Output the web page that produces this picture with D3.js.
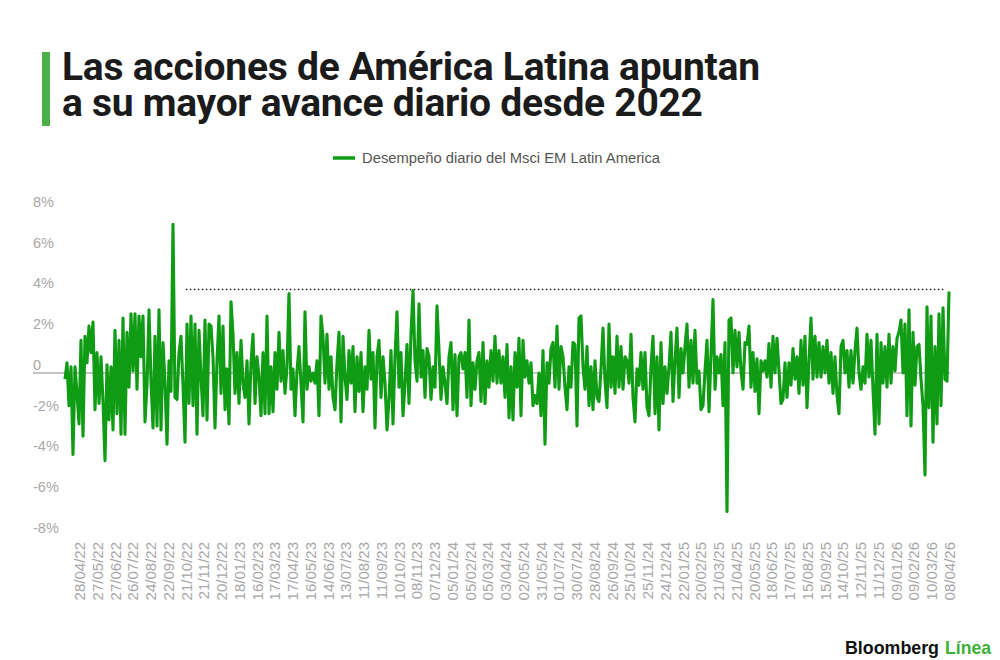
<!DOCTYPE html>
<html>
<head>
<meta charset="utf-8">
<script src="https://cdn.jsdelivr.net/npm/d3@7"></script>
<style>
  body { margin: 0; background: #fff; }
  svg text { font-family: "Liberation Sans", Arial, sans-serif; }
</style>
</head>
<body>
<svg id="chart" width="1000" height="660"></svg>
<script>
// Texts
var titleLines = ["Las acciones de América Latina apuntan", "a su mayor avance diario desde 2022"];
var legendLabel = "Desempeño diario del Msci EM Latin America";

// y axis ticks (%)
var yTicks = [8, 6, 4, 2, 0, -2, -4, -6, -8];

// x axis labels, one every 21 trading days, the last one is the last day
var dateLabels = ["28/04/22", "27/05/22", "27/06/22", "26/07/22", "24/08/22", "22/09/22", "21/10/22", "21/11/22", "20/12/22", "18/01/23",
    "16/02/23", "17/03/23", "17/04/23", "16/05/23", "14/06/23", "13/07/23", "11/08/23", "11/09/23", "10/10/23", "08/11/23",
    "07/12/23", "05/01/24", "05/02/24", "05/03/24", "03/04/24", "02/05/24", "31/05/24", "01/07/24", "30/07/24", "28/08/24",
    "26/09/24", "25/10/24", "25/11/24", "24/12/24", "22/01/25", "20/02/25", "21/03/25", "21/04/25", "20/05/25", "18/06/25",
    "17/07/25", "15/08/25", "15/09/25", "14/10/25", "12/11/25", "11/12/25", "09/01/26", "09/02/26", "10/03/26", "08/04/26"];
var daysPerLabel = 21;
var totalDays = 1047;

// daily change (%), evenly spaced over the whole period
var daily2022 = [-0.3, 0.5, -1.6, 0.3, -4.0, 0.3, -1.0, -2.5, 1.6, -3.1,
    1.8, 0.5, 2.3, 1.0, 2.5, -1.8, 1.0, -1.5, 0.8, -1.4,
    -4.3, 0.4, -2.3, 0.3, -2.8, 2.1, -2.0, 1.6, -3.0, 2.7,
    -3.0, 2.0, -0.7, 2.9, 0.1, 2.9, -0.8, 2.8, 0.8, 2.8,
    -2.4, -0.6, 3.1, -0.4, -2.7, 1.8, -2.6, 3.1, -2.8, 1.5,
    -0.5, -3.5, 0.6, -0.9, 7.3, -1.2, -1.3, 1.0, 1.8, -0.6,
    -3.4, 2.4, -1.5, 2.8, -1.6, 2.4, -3.0, 2.1, -0.2, -2.1,
    2.6, -2.3, 2.4];
var daily2023a = [2.3, 0.8, -2.7, 0.6, 2.8, -1.0, 2.3, -1.8, 0.2, -2.5,
    3.5, 1.9, -1.0, 1.0, -1.5, 1.6, -0.5, -1.2, 0.6, -2.5,
    0.5, 1.9, -1.5, 0.8, -0.2, -2.1, 1.0, -2.0, 2.8, -2.0,
    0.3, -1.9, 1.0, -0.8, 2.0, -0.4, 1.1, -1.0, 0.3, 3.9,
    -0.8, 0.2, -2.1, 0.1, 1.3, -0.5, -2.4, 3.0, -0.8, 0.3,
    -0.4, 0.0, -0.5, 0.6, -2.1, 2.8, 1.8, -0.5, 1.9, -0.8,
    0.8, -1.2, -1.8, 0.5, 2.0, -2.4, 1.8, -0.2, -1.3, 1.1,
    -0.5, 1.3];
var daily2023b = [-1.9, 0.8, -0.9, 1.0, -1.9, 0.3, -0.8, 2.1, -0.3, 1.0,
    -2.7, 0.8, 1.6, -1.2, 0.8, -0.5, -2.8, -1.3, 1.1, -2.5,
    0.8, 3.0, -0.7, 1.0, -2.1, -0.5, 1.4, -1.5, 1.9, 4.05,
    0.6, -0.4, 3.4, -0.2, 1.1, -1.2, 1.2, 0.8, -1.3, 0.3,
    -0.7, 3.3, 1.1, -1.3, 0.3, -0.5, -1.5, 0.8, 1.5, -1.8,
    0.9, -2.1, 0.8, 1.0, 0.2, 1.0, -1.2, 2.6, -1.6, 0.5,
    -0.8, 0.6, 1.0, -1.4, 1.5, -1.5, 0.6, -0.7, 1.1, -0.4,
    1.8, -0.5, 1.1];
var daily2024 = [-0.5, 0.8, -1.2, 1.4, -2.2, 0.3, -2.3, 1.0, -0.7, 1.7,
    -2.1, 1.6, -0.2, 0.6, -0.5, 0.5, -1.6, -1.1, -1.5, 0.0,
    -2.1, 1.1, -3.5, 0.5, -0.5, 1.2, 1.5, -0.7, 2.3, -0.8,
    1.3, 0.8, -0.7, -1.8, 0.3, -0.7, 1.5, 1.4, -2.6, 2.7,
    2.8, 0.3, -0.8, 1.3, -1.6, 0.3, -1.8, 0.6, -1.2, -1.4,
    0.2, 2.2, -0.4, -1.7, 2.4, -0.7, 0.8, -1.0, 1.8, -0.7,
    1.3, -0.8, 0.8, 0.6, -0.5, 1.9, -1.2, -2.4, 0.2, -0.6,
    1.0, -0.8];
var daily2025a = [1.0, -1.65, -2.1, 0.3, 1.8, -2.0, 0.8, -2.8, 1.5, -1.5,
    0.3, -1.0, 0.3, 2.0, -1.4, 0.6, 2.2, -1.2, 1.2, 0.0,
    1.3, 2.4, -0.7, 1.6, -0.5, 2.1, -0.5, 0.1, -1.8, -1.6,
    0.1, 1.6, -1.9, 0.9, 3.6, -0.8, 0.8, 0.0, 0.9, -1.6,
    1.5, -6.8, 2.6, 2.7, 0.0, 2.1, 0.3, 2.0, 0.1, -0.8,
    1.5, 1.4, 2.3, -0.7, 1.0, -0.9, 0.7, -2.0, 0.6, 0.1,
    0.6, -0.2, 1.45, -0.7, 1.8, 0.0, 1.7, 0.1, -1.5, -1.3,
    0.5, -1.2, 0.5, -0.6, 1.2, -0.3, 0.8, -1.0];
var daily2025b = [1.6, -0.6, 1.8, -1.7, 0.6, 2.7, -0.3, 1.8, -0.2, 1.5,
    -0.2, 1.3, 0.0, 1.6, -0.5, 1.0, -1.0, 0.8, -1.1, -2.0,
    1.3, 1.6, 0.0, 1.1, -0.7, 1.1, -0.5, 1.1, 2.2, 0.0,
    -0.8, 0.3, -0.5, 1.9, -0.2, 1.6, -0.8, -3.0, 1.9, -2.5,
    1.5, -0.5, 1.3, -0.7, 1.9, -0.5, 1.3, 0.1, 1.7, 2.0,
    2.6, 0.0, 2.4, -2.1, 3.1, -2.6, 2.0, -0.6, 1.3, 1.4,
    -0.3, -1.6, -5.0, 3.25, -1.7, 2.8, -3.4, 1.3, -2.5, 2.9,
    -1.6, 3.2, -0.3, -0.4, 4.0];

// dotted reference line
var refFrom = "21/10/22";
var refValue = 4.1;

var values = daily2022.concat(daily2023a, daily2023b, daily2024, daily2025a, daily2025b);

var green = "#0f9c14";
var svg = d3.select("#chart");

// Title with the green bar
svg.append("rect").attr("x", 42).attr("y", 52).attr("width", 8).attr("height", 74).attr("fill", "#4caf47");
svg.selectAll(".title").data(titleLines).enter().append("text")
    .attr("class", "title")
    .attr("x", 62)
    .attr("y", function(d, i) { return 80 + i * 36; })
    .attr("textLength", function(d, i) { return i === 0 ? 698 : 641; })
    .attr("lengthAdjust", "spacing")
    .style("font-family", "Roboto, 'Liberation Sans', sans-serif")
    .style("font-weight", 700)
    .style("font-size", "39px")
    .attr("fill", "#1b1b1b")
    .text(function(d) { return d; });

// Legend
svg.append("line").attr("x1", 333).attr("x2", 355).attr("y1", 158).attr("y2", 158)
    .attr("stroke", green).attr("stroke-width", 3.5);
svg.append("text").attr("x", 362).attr("y", 163)
    .attr("textLength", 298).attr("lengthAdjust", "spacingAndGlyphs")
    .style("font-size", "14px").attr("fill", "#555")
    .text(legendLabel);

// Scales
var x = d3.scaleLinear().domain([0, totalDays - 1]).range([65, 949]);
var y = d3.scaleLinear().domain([-8, 8]).range([536, 210]);

function labelDay(k) {
    return totalDays - 1 - daysPerLabel * (dateLabels.length - 1 - k);
}
var labelDays = dateLabels.map(function(d, k) { return labelDay(k); });

// y axis: labels sitting above their grid position
var yAxis = d3.axisRight(y).tickValues(yTicks).tickSize(0)
    .tickFormat(function(d) { return d === 0 ? "0" : d + "%"; });
var gy = svg.append("g").attr("transform", "translate(33,0)").call(yAxis);
gy.select(".domain").remove();
gy.selectAll("text")
    .attr("x", 0).attr("dy", "-0.25em")
    .style("font-family", "'Liberation Sans', Arial, sans-serif")
    .style("font-size", "14.5px").attr("fill", "#a8a8a8");

// zero line
svg.append("line").attr("x1", 33).attr("x2", 950).attr("y1", y(0)).attr("y2", y(0))
    .attr("stroke", "#8a8a8a").attr("stroke-width", 1);

// x axis: rotated date labels
var xAxis = d3.axisBottom(x).tickValues(labelDays).tickSize(0)
    .tickFormat(function(d, i) { return dateLabels[i]; });
var gx = svg.append("g").attr("transform", "translate(0,540)").call(xAxis);
gx.select(".domain").remove();
gx.selectAll("text")
    .attr("transform", "rotate(-90)")
    .attr("x", -2).attr("y", 0).attr("dy", "0.35em")
    .style("text-anchor", "end")
    .style("font-family", "'Liberation Sans', Arial, sans-serif")
    .style("font-size", "15px").attr("fill", "#a8a8a8");

// dotted reference line
var refStart = labelDays[dateLabels.indexOf(refFrom)];
svg.append("line")
    .attr("x1", x(refStart)).attr("x2", x(totalDays - 1) - 5)
    .attr("y1", y(refValue)).attr("y2", y(refValue))
    .attr("stroke", "#222").attr("stroke-width", 1.6)
    .attr("stroke-dasharray", "1.5 2.5");

// daily performance line
var step = (totalDays - 1) / (values.length - 1);
var line = d3.line()
    .x(function(d, i) { return x(i * step); })
    .y(function(d) { return y(d); });
svg.append("path").datum(values)
    .attr("d", line)
    .attr("fill", "none")
    .attr("stroke", green)
    .attr("stroke-width", 3.1)
    .attr("stroke-linejoin", "round");

// Logo
svg.append("text").attr("x", 845).attr("y", 654)
    .attr("textLength", 94).attr("lengthAdjust", "spacingAndGlyphs")
    .style("font-weight", 700).style("font-size", "19px")
    .attr("fill", "#111").text("Bloomberg");
svg.append("text").attr("x", 945).attr("y", 654)
    .attr("textLength", 46).attr("lengthAdjust", "spacingAndGlyphs")
    .style("font-weight", 700).style("font-size", "19px")
    .attr("fill", "#3db03a").text("Línea");
</script>
</body>
</html>
